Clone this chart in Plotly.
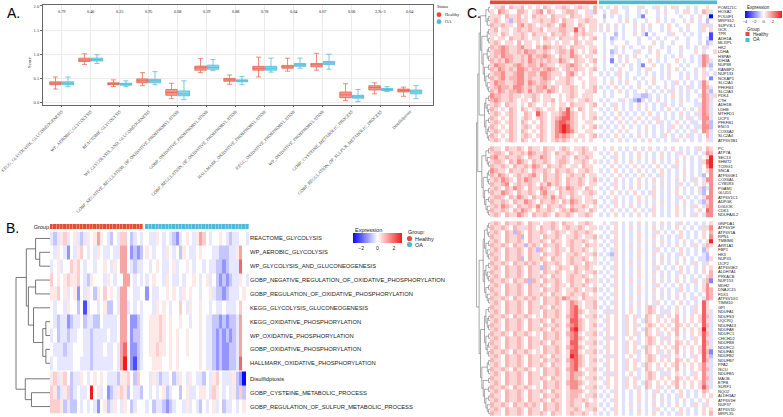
import plotly.graph_objects as go

W, H = 783, 417

# ---------------- Panel A data ----------------
A_CATEGORIES = [
    "KEGG_GLYCOLYSIS_GLUCONEOGENESIS", "WP_AEROBIC_GLYCOLYSIS", "REACTOME_GLYCOLYSIS",
    "WP_GLYCOLYSIS_AND_GLUCONEOGENESIS", "GOBP_NEGATIVE_REGULATION_OF_OXIDATIVE_PHOSPHORYLATION",
    "GOBP_OXIDATIVE_PHOSPHORYLATION", "GOBP_REGULATION_OF_OXIDATIVE_PHOSPHORYLATION",
    "HALLMARK_OXIDATIVE_PHOSPHORYLATION", "KEGG_OXIDATIVE_PHOSPHORYLATION",
    "WP_OXIDATIVE_PHOSPHORYLATION", "GOBP_CYSTEINE_METABOLIC_PROCESS",
    "GOBP_REGULATION_OF_SULFUR_METABOLIC_PROCESS", "Disulfidptosis"]
A_PVALUES = ["0.79", "0.46", "0.25", "0.95", "0.08", "0.39", "0.88", "0.78", "0.04", "0.07",
             "0.06", "3.9e-3", "0.04"]
GROUPS = ["Healthy", "OA"]
A_YTICKS = [0.0, 0.5, 1.0, 1.5, 2.0]

HEALTHY_LOW = [0.28, 0.79, 0.33, 0.35, 0.08, 0.62, 0.38, 0.53, 0.65, 0.67, 0.04, 0.18, 0.13]
HEALTHY_Q1 = [0.37, 0.85, 0.37, 0.41, 0.15, 0.67, 0.44, 0.67, 0.71, 0.74, 0.10, 0.26, 0.22]
HEALTHY_MED = [0.40, 0.88, 0.39, 0.45, 0.21, 0.72, 0.47, 0.71, 0.74, 0.78, 0.16, 0.31, 0.25]
HEALTHY_Q3 = [0.43, 0.92, 0.41, 0.49, 0.27, 0.755, 0.50, 0.75, 0.77, 0.81, 0.22, 0.35, 0.28]
HEALTHY_HIGH = [0.53, 1.01, 0.47, 0.62, 0.40, 0.91, 0.57, 0.94, 0.92, 1.02, 0.39, 0.41, 0.32]
OA_LOW = [0.33, 0.81, 0.33, 0.37, 0.06, 0.66, 0.37, 0.63, 0.71, 0.69, 0.02, 0.23, 0.08]
OA_Q1 = [0.37, 0.86, 0.36, 0.41, 0.14, 0.69, 0.43, 0.67, 0.75, 0.79, 0.09, 0.25, 0.18]
OA_MED = [0.40, 0.89, 0.38, 0.45, 0.18, 0.73, 0.45, 0.71, 0.78, 0.82, 0.12, 0.27, 0.22]
OA_Q3 = [0.43, 0.92, 0.40, 0.48, 0.24, 0.775, 0.47, 0.75, 0.81, 0.85, 0.15, 0.29, 0.26]
OA_HIGH = [0.53, 0.99, 0.45, 0.64, 0.45, 0.89, 0.54, 0.92, 0.92, 1.00, 0.27, 0.33, 0.35]

# ---------------- Shared heatmap data ----------------
N_HEALTHY = 28
N_OA = 31
# expression level codes (one scale per heatmap)
B_LEVELS = {'B': -3.2, 'b': -2.2, 'c': -1.3, 'd': -0.7, 'e': -0.3, 'f': 0.0,
            'g': 0.3, 'h': 0.65, 'i': 1.2, 'j': 2.0, 'J': 3.0}
C_LEVELS = {'B': -4.0, 'b': -3.0, 'c': -2.0, 'd': -1.1, 'e': -0.5, 'f': 0.0,
            'g': 0.7, 'h': 1.3, 'i': 2.0, 'j': 2.8, 'J': 3.8}

# ---------------- Panel B data ----------------
B_LABELS_TOP = ["REACTOME_GLYCOLYSIS", "WP_AEROBIC_GLYCOLYSIS", "WP_GLYCOLYSIS_AND_GLUCONEOGENESIS",
                "GOBP_NEGATIVE_REGULATION_OF_OXIDATIVE_PHOSPHORYLATION",
                "GOBP_REGULATION_OF_OXIDATIVE_PHOSPHORYLATION", "KEGG_GLYCOLYSIS_GLUCONEOGENESIS",
                "KEGG_OXIDATIVE_PHOSPHORYLATION", "WP_OXIDATIVE_PHOSPHORYLATION",
                "GOBP_OXIDATIVE_PHOSPHORYLATION", "HALLMARK_OXIDATIVE_PHOSPHORYLATION"]
B_LABELS_BOTTOM = ["Disulfidptosis", "GOBP_CYSTEINE_METABOLIC_PROCESS",
                   "GOBP_REGULATION_OF_SULFUR_METABOLIC_PROCESS"]
B_ROWS_TOP = [
    "edeghefgedegfgigfedfehhfdefe|feegfefedcefgfegihfeffgfedeeffe",
    "fegfecfeghfefegfeefeeiifcdcd|gfeffegfefdgfeefgfffeedddeegiff",
    "efgeffhghfeffeffgfegfiifedee|fefgfeefgeffgfeffefeeddcdeeejff",
    "hfgfghgghfedgfffegfeffiifefe|efgffegfeefeffgfefgefdcdcdeegfe",
    "gghfgefgcfegfdgfhfgfeiiffeef|cfeeffgfgfegfgffeffgeddcdeeefgf",
    "feffegffdfbeffefgddfeiiefefe|ffegfgfeffhfegffgffefeefeeefhff",
    "fedeecdeefdeeddfeeeefiifccde|fggghgfgffgffeffgfeeddcdcddeiff",
    "efdeedeeffeedeeeefeefiifcdde|fggghgfgfgffgfffgfeedcdcdcdeiff",
    "feeedeefffeedeeefeefeijfccde|fgghggfgfgffgfffgfeedcdccddeiff",
    "efeeeeeffeeedeeeeeefeiJfcbde|ffgggffgfgffffffgfeedcdccddejff",
]
B_ROWS_BOTTOM = [
    "gheghfdeegfefgfgfeeedgghfdhf|fegedeefdegfegfeedfeghfeeegdcBf",
    "hgdeghdefeefJfgefcdeghgdfeed|fefefgdeffdfgeefggfehgfefegdhdf",
    "hhhgdeddfefefecfgdegfegfdeff|efdeedcdeffegefedfefgefdeefefgf",
]
# dendrogram: (left, right, merge height)
B_TREE = (((0, (1, 2, 10), 14),
           ((3, 4, 14), (5, ((6, 7, 4), (8, 9, 4), 7), 16), 21), 23),
          (10, (11, 12, 18), 24), 33)

# ---------------- Panel C data ----------------
C_GENES_1 = ["POM121C", "HOXA2", "POU4F1", "MRPS12", "SUPV3L1", "GCK", "TPR", "ADH1A", "MLXIPL",
             "HK2", "LDHA", "HSPA9", "IDH3A", "NUP88", "RANBP2", "NUP133", "NCKAP1", "SLC2A1",
             "PFKFB3", "SLC2A3", "PDK4", "CTH", "ADH1B", "LDHB", "MTHFD1", "UCP3", "PFKFB1",
             "ENO3", "COX6A2", "SLC2A4", "ATP6V1B1"]
C_GENES_2 = ["PC", "ATP7A", "SEC13", "SHMT2", "TCIRG1", "SNCA", "ATP6V0E1", "COX6A1", "CYB5R3",
             "PGAM1", "GLUD1", "ATP6V1C1", "ADPGK", "DGUOK", "CDK1", "NDUFA4L2"]
C_GENES_3 = ["GNPDA1", "ATP6V1F", "ATP6V1A", "RPN1", "TMBIM6", "AKR1A1", "FBP1", "HK3", "NUP43",
             "UCP2", "ATP6V0E2", "ALDH7A1", "PRKACB", "NUP153", "MDH2", "DNAJC15", "FDX1",
             "ATP6V1G1", "TIMM10", "GPI", "NDUFA1", "NDUFS3", "UQCRQ", "NDUFA13", "NDUFA8",
             "NDUFC1", "CHCHD2", "NDUFB8", "NDUFC2", "NDUFA3", "NDUFB2", "NDUFB7", "PPA2", "ISCU",
             "NDUFB5", "MAOB", "ETFB", "SURF1", "NQO2", "ALDH3A2", "ATP6V1H", "NUP37", "ATP6V1D",
             "MRPL35"]
C_ROWS_1 = [
    "fgghfhgghfgfgfhgfgghgfghggfh|efefgfeeffgeffegfefgeffefeffgff",
    "gfihgffhhgfghifhgffghhgffgeh|fefggffeffefgffefgffefggfefhgef",
    "gggfhgghfgfhgggfhgggfhggfggf|fdfefefeffecfffefefffeffefgfeBf",
    "ghgfgdghggfgghgghgfhggfgghgg|fefffefgfeffeffgfefeffefgfefdff",
    "hgghggfhighgfgghgfhiggfhgfgg|gfefgfeffgfefgffefgfeffgffeggef",
    "ghfggfghgghgghfggghhggjghfgg|efgfefeffefgfeffefgffefeffegfgf",
    "ggfhgfgghgfhgggfhgghgfhghggf|feffdfeffgfecfefffegffefefeffbf",
    "gfggfhgghgfggfhggfhggghfgfgh|fefdefefffeffefefeffeffeffefebf",
    "ghgfggfhfggfgfggfgfggfhgfggf|fefefffeffefffgfeffefffeffefdef",
    "hghihgghiggfhgihgghgfhgggfgg|feffefgfeffefgffefeffgfefefgeff",
    "ghhihgghgihhgghgfghhgigfgfgh|fefdefeffegffefgffeffefffgfeffg",
    "ghgihhgghgighhihgfhggihgfggf|fgfefgfefgffeffgfefefgffefeihff",
    "hghgihgghgihghghggihgfhggfgh|fefcfefgffeffgfefeffgfefefeihef",
    "gihhgghihghhgihggfgghihgfgfg|feffefgfefecffgfefgffefeffeigdf",
    "hgihghgiihghhghihgfghghggfgh|fefefgffefefegffefefgfeffefgfef",
    "ghhigghiighhgiihgggfhigfgfgf|efefegfeffefgfefefgffefefefgefe",
    "hghighhiighgghihgfgghgfgffgg|fefefgfefefeffgfefeffefgfefgfcf",
    "gihhgghiigihghhgfggghgffgfgg|fefgfefgffefefgffefegfefefeigff",
    "ghihhgiihghghhighgfgghgfgfgh|efefgfefefgffefefgfefefgefeihef",
    "hgihghhihgighhgihgfgghgffggh|fefefgfefeffgfefefegfefefefigdf",
    "ihhgghggfgghgfggffgfghgfgggf|fefefffefeeddefefefgfefeffeiheg",
    "hihgghgfggfhgfgghfgfggfgghgf|efeffegfedcefefgfefefgfefefihgf",
    "ghgfhggfgfhgffgfgfggfhgggfgh|fefegfefefgfefefegfefefffeeihef",
    "hgfgfhgfhgfghgfggfhgjgfhgfgf|efefgfefefefgfefefgfefefefgihef",
    "ghgfghgffhgfjhgfgghijhgfgfgg|fefefgfefefefgfefefefgfefegihef",
    "hgfgfhgfghgfghgfghijjhgfgfgh|efefgfefefgfefegfefefefgefeiief",
    "ghgfghgfhgfgfhgfgijjihgffggf|fefefgfefgfefefgefefgfefeefihdf",
    "hgfgfhgfghgfghgfgijJjhgfgfgh|efefefgfefefgfefefegfefefeeiidf",
    "ghgfghgfhgfgfhgfgijJjigffggf|fefefgfeffefgfefefgfefefegfihef",
    "hgfgfhgfghgfghgfgihihgfggfgh|efefgfefefgfefefegfefefgefefhef",
    "ghgfghgfhgfgfhgfghghgfgfgfgf|fefefgfefefefgfefefegfefefefgef",
]
C_ROWS_2 = [
    "hggfhgghgfhggfhggfghgfgghgfg|fefgfefefgfefgfefefgfefefegfhgf",
    "ghhgfhgghgihgghgfhgghgfghggf|efefgfefefgfefefgfefegfefefeihf",
    "higghgghgfhggihgfgghgfhgghgf|fefegfefefgfefefgfefefgfefefgJf",
    "ghhgfhgihgfhgghgfghhgfgghgfg|efefgfefgfefefgfefefgfefefegjJf",
    "hgghgfhgghgihgfhgghgfggfhggf|fefgfefefgfefefgfefegfefefefiJf",
    "ihggfhgghgfhgghgfhgghgfgghgf|efefgfefefgfefefgfefefgfefefgif",
    "hgihgfghgghigfhgghgfghgghfgg|fefefgfefefgfefegfefefgfefedfif",
    "ghgihgfhgihggfhgghgfhgghgfgh|efefgfefefgfefgfefefgfefegfeiif",
    "hgghifghgghgfhgighgfhgghgfgg|fefegfefefgfefefgfefegfefefgfif",
    "ghgfhgihgfhggihgfghgihggfhgf|efefgfefgfefefgfefefgfefefgdeif",
    "hggihgfhgghgfhiggfhgghgfgghg|fefgfefefgfefegfefefgfefefedfif",
    "ghhgfhgihgfhgghgighgfhggfggf|efefgfefefgfefgfefefegfefefgiif",
    "hgghgfhggihgfhgghgfhgihgfggh|fefegfefefgfefefgfefefgfefedgif",
    "ghgihgfhgghgigfhgghgfhgghgfg|efefgfefgfefefgfefefgfefegfehif",
    "hgghgfhgihgfhgghgfghgihggfhg|fefgfefefgfefegfefefgfefefgfjif",
    "ghgfhggihgfhgghgfhgghgfgghgf|efefgfefefgfefgfefefgfefegfeiif",
]
C_ROWS_3 = [
    "ghgfhgghgfhggfgghgfhggfgghgf|fefegfefefgfefefgfefegfefefefgf",
    "hgghgfhgeghgfhgghgfghgghgfgg|efefgfefgfefefgfefefgfefefeggif",
    "ghgfhgdhgfhgghgfghggfghgghgf|fefegfefefgfefegfefefgfefefgfhf",
    "hggfhgghdfhggfhgghgfgghgfggh|efefgfefefgfefgfefefegfefefgfif",
    "ghgfhgghgfhgghgfhggfghgghgfg|fefegfefefgfefefgfefefgfefefgJf",
    "hgghgfhggdghgfhgghgfghggfhgg|efefgfefgfefefgfefefgfefegfehgf",
    "ghgfhgghgfhgdhgfghggfhgghgfg|fefegfefefgfefegfefefgfefefdgff",
    "hggfhgghgfhggfhgghgfgghgfggh|efedgfefefgfefgfefefegfefefedff",
    "ghgfhgghdfhgghgfhggfghgghgfg|fefegfefefgfefefgfefefgfefeedgf",
    "hgghgfhgghghgfhgghgfghggfhgg|efefgfefgfefefgfefefgfefegfegff",
    "ghgfhgghgfhggdhgfghggfhgghgf|fefegfefefgfefegfefefgfefefgfgf",
    "hggfhgghgfhggfhgghgfgghgfggh|efefgfefefgfefgfefefegfefefgfhf",
    "ghgfhgghgfhgghgfhggfghgghgfg|fefegfefefgfefefgfefefgfefefghf",
    "hgghgfhgghdhgfhgghgfghggfhgg|efefgfefgfefefgfefefgfefegfehcf",
    "ghgfhgghgfhgghgfghggfhgghgfg|fefegfefefgfefegfefefgfefefgiff",
    "hggfhgghgfhggfhgghgfgghgfggh|efefgfefefgfefgfefefegfefefgihf",
    "ghgfhgghgfhgghgfhggfghgghgfg|fefegfefefgfefefgfefefgfefefihf",
    "hgghgfhgghghgfhgghgihggfhggg|efefgfefgfefefgfefefgfefegfeihf",
    "ghgfhgghgfhggfhgghgfgihgfggh|fefegfefefgfefegfefefgfefefjgff",
    "hggfhgghgfhgghgfhggfgijgfggh|efefgfefgfefghgfefefgfefegfjgff",
    "ghgfhgghgfhggfhgghgfgijhgfgg|fegegfefgfefghgfegefgfefegfjgef",
    "hgghgfhgghgfgfhgghgfhijgfggh|efgfgfegfgefhgfgefgfhfefgfgjhef",
    "ghgfhgghgfhgghgfhggfgjjhgfgg|fegfgfegfgfehgfgfgfghfgfgfgjgef",
    "hggfhgghgfhggfhgghgfhijhgfgh|efgfgfegfgefghgfgfgfhgfgfgfjhef",
    "ghgfhgghgfhgghgfhggfgjJhgfgg|fegfgfegfgfehgfgfgfghfgfgfgJgef",
    "hgghgfhgghgfgfhgghgfhijgfggh|efgfgfegfgefhgfgefgfhfefgfgjhef",
    "ghgfhgghgfhggfhgghgfgijhgfgg|fegegfefgfefghgfegefgfefegfjgef",
    "hggfhgghgfhgghgfhggfgjjgfggh|efgfgfegfgefghgfgfgfhgfgfgfjhef",
    "ghgfhgghgfhggfhgghgfhijhgfgg|fegfgfegfgfehgfgfgfghfgfgfgjgef",
    "hgghgfhgghgfgfhgghgfgjjgfggh|efgfgfegfgefhgfgefgfhfefgfgjhcf",
    "ghgfhgghgfhgghgfhggfgJjhgfgg|fegegfefgfefghgfegefgfefegfjgdf",
    "hggfhgghgfhggfhgghgfhijhgfgh|efgfgfegfgefghgfgfgfhgfgfgfjhef",
    "ghgfhgghgfhgghgfhggfgijhgfgg|fegfgfegfgfehgfgfgfghfgfgfgigef",
    "hgghgfhgghgfgfhgghgfhijgfggh|efgfgfegfgefhgfgefgfhfefgfgihef",
    "ghgfhgghgfhggfhgghgfgihhgfgg|fegegfefgfefghgfegefgfefegfigef",
    "hggfhgghgfhgghgfhggfgihgfggh|efgfgfegfgefghgfgfgfhgfgfgfihef",
    "ghgfhgghgfhggfhgghgfhiihgfgg|fegfgfegfgfehgfgfgfghfgfgfgigef",
    "hgghgfhgghgfgfhgghgfgiigfggh|efgfgfegfgefhgfgefgfhfefgfgjhef",
    "ghgfhgghgfhgghgfhggfghhhgfgg|fefegfefefgfefegfefefgfefefhgff",
    "hggfhgghgfhggfhgghgfghhgfggh|efefgfefefgfefgfefefegfefefgfgf",
    "ghgfhgghgfhgghgfhggfghgghgfg|fefegfefefgfefefgfefefgfefefgff",
    "hgghgfhgghghgfhgghgfghggfhgg|efefgfefgfefefgfefefgfefegfegff",
    "ghgfhgghgfhggfhgghgfgghgfggh|fefegfefefgfefegfefefgfefefgfgf",
    "hggfhgghgfhgghgfhggfghgghgfg|efefgfefefgfefgfefefegfefefgfhf",
]
C_TREE_BLOCK1 = [[[[0, 1], [[2, 3], 4]], [[[5, 6], [7, 8]], [[[9, 10], [11, 12]], [[13, 14], [[15, 16], [17, [18, 19]]]]]]], [[[20, 21], [22, [23, 24]]], [[25, 26], [[27, 28], [29, 30]]]]]
C_TREE_BLOCK2 = [[[31, 32], [33, [34, 35]]], [[[36, 37], [38, 39]], [[40, 41], [[42, 43], [44, [45, 46]]]]]]
C_TREE_BLOCK3 = [[[[[47, 48], [49, 50]], [[51, 52], [53, [54, 55]]]], [[[56, 57], [58, [59, 60]]], [[61, 62], [63, [64, 65]]]]], [[[[66, 67], [[68, 69], [70, 71]]], [[72, 73], [[74, 75], [76, 77]]]], [[[78, 79], [80, 81]], [[82, 83], [[84, 85], [[86, 87], [88, [89, 90]]]]]]]]
C_TREE = [[C_TREE_BLOCK1, C_TREE_BLOCK2], C_TREE_BLOCK3]

# ---------------- styles ----------------
RED = "#E64B35"
BLUE = "#4DBBD5"
SANS = "Liberation Sans"
SERIF = "Liberation Serif"
HEAT_SCALE = [[0.0, "rgb(10,10,255)"], [0.5, "rgb(255,255,255)"], [1.0, "rgb(240,28,28)"]]


def px(x):
    return x / W


def py(y):
    return 1 - y / H


def decode(s, n, levels):
    v = [levels.get(c, 0.0) for c in s.strip()]
    return (v + [0.0] * n)[:n]


def build_matrix(blocks, levels):
    z = []
    for bi, block in enumerate(blocks):
        if bi > 0:
            z.append([None] * (N_HEALTHY + 1 + N_OA))
        for row in block:
            hs, os_ = row.split('|')
            z.append(decode(hs, N_HEALTHY, levels) + [None] + decode(os_, N_OA, levels))
    return z


def edges_with_gaps(sizes, gap):
    edges = [0.0]
    centers = []
    pos = 0.0
    for bi, n in enumerate(sizes):
        if bi > 0:
            pos += gap
            edges.append(pos)
        for _ in range(n):
            centers.append(pos + 0.5)
            pos += 1
            edges.append(pos)
    return edges, centers


def dendro_explicit(node, centers, xs, ys):
    if isinstance(node, int):
        return centers[node], 0.0
    a, b, h = node
    ya, ha = dendro_explicit(a, centers, xs, ys)
    yb, hb = dendro_explicit(b, centers, xs, ys)
    xs.extend([ha, h, h, hb, None])
    ys.extend([ya, ya, yb, yb, None])
    return (ya + yb) / 2, h


def dendro_depth(node, centers, xs, ys):
    if isinstance(node, int):
        return centers[node], 0
    ya, ha = dendro_depth(node[0], centers, xs, ys)
    yb, hb = dendro_depth(node[1], centers, xs, ys)
    h = max(ha, hb) + 1
    xs.extend([ha, h, h, hb, None])
    ys.extend([ya, ya, yb, yb, None])
    return (ya + yb) / 2, h


fig = go.Figure()

# ---------------- Panel A: boxplots ----------------
box_specs = [
    (GROUPS[0], HEALTHY_LOW, HEALTHY_Q1, HEALTHY_MED, HEALTHY_Q3, HEALTHY_HIGH,
     "rgba(230,75,53,0.55)", "rgba(230,75,53,0.8)"),
    (GROUPS[1], OA_LOW, OA_Q1, OA_MED, OA_Q3, OA_HIGH,
     "rgba(77,187,213,0.6)", "rgba(60,180,210,0.85)"),
]
for name, lo, q1, med, q3, hi, fill, line in box_specs:
    fig.add_trace(go.Box(
        x=A_CATEGORIES, lowerfence=lo, q1=q1, median=med, q3=q3, upperfence=hi,
        name=name, offsetgroup=name, fillcolor=fill, line=dict(color=line, width=0.8),
        whiskerwidth=0.45, boxpoints=False, showlegend=False, hoverinfo="skip",
        xaxis="x", yaxis="y"))

# ---------------- Panel B: heatmap ----------------
B_z = build_matrix([B_ROWS_TOP, B_ROWS_BOTTOM], B_LEVELS)
B_rows_edges, B_rows_centers = edges_with_gaps([len(B_ROWS_TOP), len(B_ROWS_BOTTOM)], 0.12)
B_col_edges, _ = edges_with_gaps([N_HEALTHY, N_OA], 0.6)
fig.add_trace(go.Heatmap(z=B_z, x=B_col_edges, y=B_rows_edges, coloraxis="coloraxis",
                         xaxis="x2", yaxis="y2", hoverinfo="skip"))
group_row = [[0] * N_HEALTHY + [None] + [1] * N_OA]
GROUP_SCALE = [[0, RED], [0.5, RED], [0.5, BLUE], [1, BLUE]]
fig.add_trace(go.Heatmap(z=group_row, x=B_col_edges, y=[0, 1], colorscale=GROUP_SCALE,
                         zmin=0, zmax=1, showscale=False, xgap=0.35,
                         xaxis="x2", yaxis="y3", hoverinfo="skip"))
bx, by = [], []
dendro_explicit(B_TREE, B_rows_centers, bx, by)
fig.add_trace(go.Scatter(x=bx, y=by, mode="lines", line=dict(color="#555555", width=0.8),
                         showlegend=False, hoverinfo="skip", xaxis="x3", yaxis="y2"))

# ---------------- Panel C: heatmap ----------------
C_z = build_matrix([C_ROWS_1, C_ROWS_2, C_ROWS_3], C_LEVELS)
C_rows_edges, C_rows_centers = edges_with_gaps([len(C_ROWS_1), len(C_ROWS_2), len(C_ROWS_3)], 0.9)
C_col_edges, _ = edges_with_gaps([N_HEALTHY, N_OA], 0.5)
fig.add_trace(go.Heatmap(z=C_z, x=C_col_edges, y=C_rows_edges, coloraxis="coloraxis2",
                         xaxis="x4", yaxis="y4", hoverinfo="skip"))
fig.add_trace(go.Heatmap(z=group_row, x=C_col_edges, y=[0, 1], colorscale=GROUP_SCALE,
                         zmin=0, zmax=1, showscale=False,
                         xaxis="x4", yaxis="y5", hoverinfo="skip"))
cx, cy = [], []
_, c_max_h = dendro_depth(C_TREE, C_rows_centers, cx, cy)
fig.add_trace(go.Scatter(x=cx, y=cy, mode="lines", line=dict(color="#707070", width=0.6),
                         showlegend=False, hoverinfo="skip", xaxis="x5", yaxis="y4"))

C_LABELS = C_GENES_1 + C_GENES_2 + C_GENES_3
B_LABELS = B_LABELS_TOP + B_LABELS_BOTTOM

hidden = dict(showticklabels=False, showgrid=False, zeroline=False, showline=False, ticks="")

fig.update_layout(
    width=W, height=H, margin=dict(l=0, r=0, t=0, b=0), template="none",
    paper_bgcolor="white", plot_bgcolor="white", showlegend=False, hovermode=False,
    boxmode="group", boxgap=0.14, boxgroupgap=0.08,
    xaxis=dict(domain=[px(43), px(433)], anchor="y", type="category",
               range=[-0.645, 12.8], tickmode="array", tickvals=A_CATEGORIES,
               ticktext=A_CATEGORIES, tickangle=-45, automargin=False,
               tickfont=dict(family=SERIF, size=4.4, color="#444444"),
               showgrid=True, gridcolor="#EBEBEB", gridwidth=0.6, zeroline=False,
               showline=True, linecolor="#666666", linewidth=0.8, mirror=True,
               ticks="outside", ticklen=2, tickcolor="#666666", tickwidth=0.5),
    yaxis=dict(domain=[py(104.5), py(5)], anchor="x", range=[-0.04, 2.02],
               tickmode="array", tickvals=A_YTICKS, ticktext=[f"{v:.1f}" for v in A_YTICKS],
               tickfont=dict(family=SERIF, size=4.5, color="#444444"), automargin=False,
               showgrid=True, gridcolor="#EBEBEB", gridwidth=0.6, zeroline=False,
               showline=True, linecolor="#666666", linewidth=0.8, mirror=True,
               ticks="outside", ticklen=2, tickcolor="#666666", tickwidth=0.5),
    xaxis2=dict(domain=[px(50), px(249)], anchor="y2", range=[0, B_col_edges[-1]], **hidden),
    yaxis2=dict(domain=[py(413.5), py(231.5)], anchor="x2",
                range=[B_rows_edges[-1], 0], side="right", tickmode="array",
                tickvals=B_rows_centers, ticktext=B_LABELS, automargin=False,
                tickfont=dict(family=SANS, size=5.8, color="#222222"),
                showgrid=False, zeroline=False, showline=False, ticks=""),
    yaxis3=dict(domain=[py(229.3), py(224)], anchor="x2", range=[1, 0], side="left",
                tickmode="array", tickvals=[0.5], ticktext=["Group"], automargin=False,
                tickfont=dict(family=SANS, size=5.5, color="#222222"),
                showgrid=False, zeroline=False, showline=False, ticks=""),
    xaxis3=dict(domain=[px(15), px(50)], anchor="y2", range=[34, 0], **hidden),
    xaxis4=dict(domain=[px(490), px(717)], anchor="y4", range=[0, C_col_edges[-1]], **hidden),
    yaxis4=dict(domain=[py(415.8), py(5.3)], anchor="x4",
                range=[C_rows_edges[-1], 0], side="right", tickmode="array",
                tickvals=C_rows_centers, ticktext=C_LABELS, automargin=False,
                tickfont=dict(family=SANS, size=4, color="#222222"),
                showgrid=False, zeroline=False, showline=False, ticks=""),
    yaxis5=dict(domain=[py(4.5), py(0.3)], anchor="x4", range=[1, 0], side="left",
                tickmode="array", tickvals=[0.5], ticktext=["Group"], automargin=False,
                tickfont=dict(family=SANS, size=4, color="#222222"),
                showgrid=False, zeroline=False, showline=False, ticks=""),
    xaxis5=dict(domain=[px(476), px(490)], anchor="y4", range=[c_max_h + 0.3, 0], **hidden),
    coloraxis=dict(cmin=-3, cmax=3, colorscale=HEAT_SCALE,
                   colorbar=dict(orientation="h", x=px(353), xanchor="left", y=py(233),
                                 yanchor="top", len=49, lenmode="pixels", thickness=10,
                                 tickvals=[-2, 0, 2], tickfont=dict(family=SANS, size=5, color="#222"),
                                 outlinewidth=0, xpad=0, ypad=0, ticks="")),
    coloraxis2=dict(cmin=-4, cmax=4, colorscale=HEAT_SCALE,
                    colorbar=dict(orientation="h", x=px(745), xanchor="left", y=py(11),
                                  yanchor="top", len=37, lenmode="pixels", thickness=7,
                                  tickvals=[-4, -2, 0, 2, 4],
                                  tickfont=dict(family=SANS, size=4, color="#222"),
                                  outlinewidth=0, xpad=0, ypad=0, ticks="")),
)

annotations = []
# p-values
for cat, p in zip(A_CATEGORIES, A_PVALUES):
    annotations.append(dict(x=cat, y=1.88, xref="x", yref="y", text=p, showarrow=False,
                            font=dict(family=SERIF, size=4.2, color="#222222")))
# y title
annotations.append(dict(x=px(25), y=py(55), xref="paper", yref="paper", text="Score",
                        textangle=-90, showarrow=False,
                        font=dict(family=SERIF, size=4.8, color="#222222")))
# colorbar titles
for tx, ty, size in [(353, 230, 5.5), (745, 7.5, 4.5)]:
    annotations.append(dict(x=px(tx), y=py(ty), xref="paper", yref="paper", text="Expression",
                            xanchor="left", yanchor="middle", showarrow=False,
                            font=dict(family=SANS, size=size, color="#222222")))
# panel letters
for letter, lx, ly in [("A.", 5, 13), ("B.", 4, 228), ("C.", 465, 13)]:
    annotations.append(dict(x=px(lx), y=py(ly), xref="paper", yref="paper", text=letter,
                            xanchor="left", yanchor="middle", showarrow=False,
                            font=dict(family=SANS, size=14, color="black")))

shapes = []


def legend_block(title, tx, ty, items_y, mx, r, lx, font, size, symbol):
    annotations.append(dict(x=px(tx), y=py(ty), xref="paper", yref="paper", text=title,
                            xanchor="left", yanchor="middle", showarrow=False,
                            font=dict(family=font, size=size, color="#222222")))
    for (name, color), iy in zip(zip(GROUPS, [RED, BLUE]), items_y):
        shapes.append(dict(type=symbol, xref="paper", yref="paper",
                           x0=px(mx - r), x1=px(mx + r), y0=py(iy + r), y1=py(iy - r),
                           fillcolor=color, line=dict(width=0)))
        annotations.append(dict(x=px(lx), y=py(iy), xref="paper", yref="paper", text=name,
                                xanchor="left", yanchor="middle", showarrow=False,
                                font=dict(family=font, size=size, color="#222222")))


legend_block("Status", 435, 6.5, [14.7, 21.7], 439, 2.4, 442.5, SERIF, 4.5, "circle")
legend_block("Group:", 405.5, 232, [238.5, 244.5], 409.5, 2.6, 413, SANS, 5.5, "circle")
legend_block("Group", 744.5, 29, [34, 40], 747.5, 2.0, 751, SANS, 4.5, "rect")

fig.update_layout(annotations=annotations, shapes=shapes)

fig.write_html("out.html", config={"displayModeBar": False},
               post_script="document.body.style.margin='0px';")
